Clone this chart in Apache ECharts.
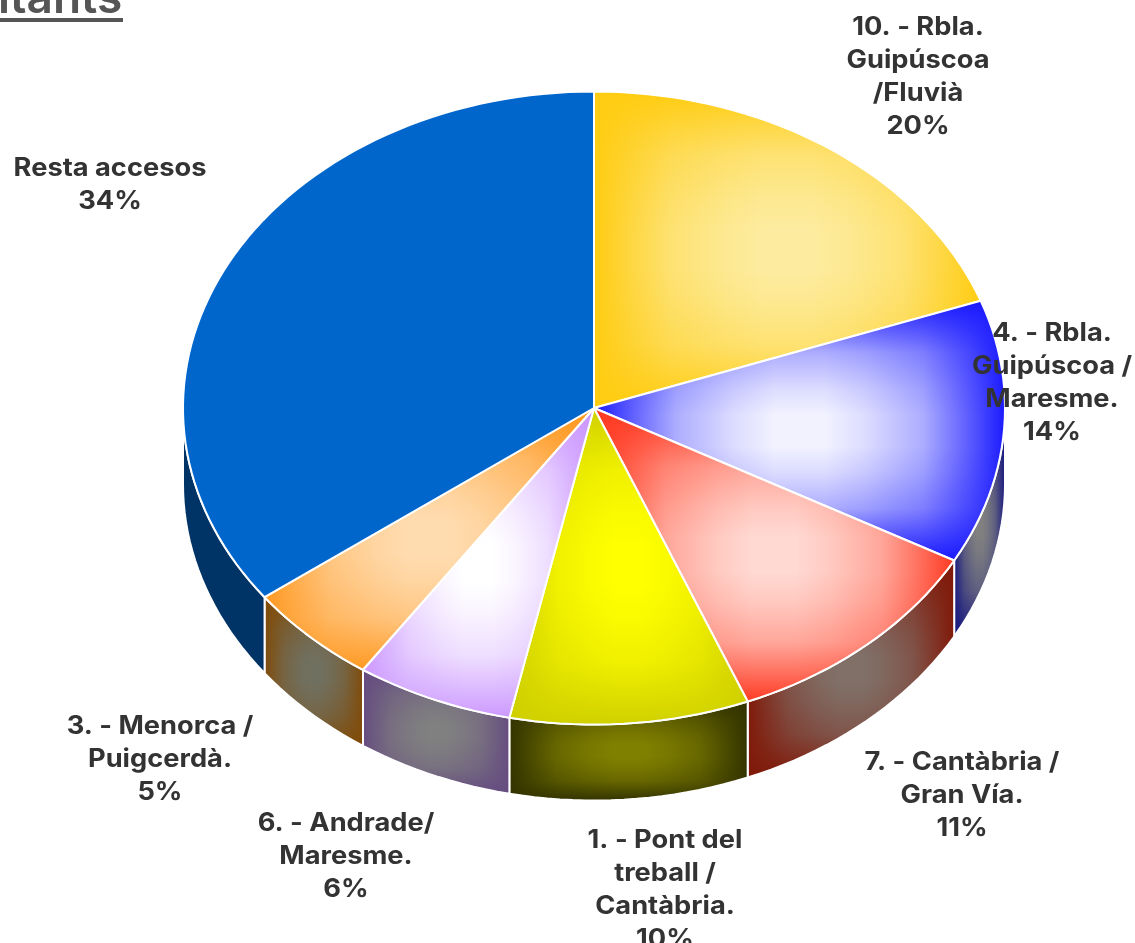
<!DOCTYPE html>
<html>
<head>
<meta charset="utf-8">
<style>html,body{margin:0;padding:0;background:#fff}#chart{width:1135px;height:943px}</style>
<script src="https://cdn.jsdelivr.net/npm/echarts@6/dist/echarts.min.js"></script>
</head>
<body>
<div id="chart"></div>
<script>
// clockwise from 12 o'clock
const names = ['10. - Rbla.\nGuipúscoa\n/Fluvià', '4. - Rbla.\nGuipúscoa /\nMaresme.', '7. - Cantàbria /\nGran Vía.', '1. - Pont del\ntreball /\nCantàbria.', '6. - Andrade/\nMaresme.', '3. - Menorca /\nPuigcerdà.', 'Resta accesos'];
const percentLabels = ['20%', '14%', '11%', '10%', '6%', '5%', '34%'];
// slice sizes (in %)
const sizes = [19.5, 13.5, 10.9, 9.4, 6.2, 5.3, 35.2];

// look of each slice
const topEdge = ['#ffcc11', '#1a1aff', '#ff3a22', '#d0d000', '#cc99ff', '#ff9922', '#0066cc'];
const topMid = ['#fdeca0', '#f2f2ff', '#ffd9d2', '#ffff00', '#ffffff', '#ffdcb0', '#0066cc'];
const wallEdge = ['#806000', '#1a1a80', '#801a0a', '#333300', '#664d80', '#804c0a', '#003366'];
const wallMid = ['#808080', '#808080', '#807068', '#808000', '#808080', '#707060', '#003366'];
// centre x, first line y of every label
const labelAt = [[918, 26], [1052, 332], [962, 761], [665, 839], [346, 822], [160, 725], [110, 167]];

const cx = 594, cy = 408, rx = 411, ry = 316.5, depth = 76;
const labelColor = '#333333';
const lineH = 33;

function pt(pct, dy) {
  const a = pct / 100 * Math.PI * 2;
  return [cx + rx * Math.sin(a), cy - ry * Math.cos(a) + (dy || 0)];
}
function arc(from, to, dy) {
  const pts = [];
  const n = Math.max(2, Math.ceil((to - from) * 2));
  for (let i = 0; i <= n; i++) pts.push(pt(from + (to - from) * i / n, dy));
  return pts;
}
function fade(c) {
  const n = parseInt(c.slice(1), 16);
  const rgb = [n >> 16, (n >> 8) & 255, n & 255].join(',');
  return [
    { offset: 0, color: 'rgba(' + rgb + ',1)' },
    { offset: 0.08, color: 'rgba(' + rgb + ',0.72)' },
    { offset: 0.2, color: 'rgba(' + rgb + ',0.32)' },
    { offset: 0.34, color: 'rgba(' + rgb + ',0.1)' },
    { offset: 0.44, color: 'rgba(' + rgb + ',0)' },
    { offset: 0.56, color: 'rgba(' + rgb + ',0)' },
    { offset: 0.66, color: 'rgba(' + rgb + ',0.1)' },
    { offset: 0.8, color: 'rgba(' + rgb + ',0.32)' },
    { offset: 0.92, color: 'rgba(' + rgb + ',0.72)' },
    { offset: 1, color: 'rgba(' + rgb + ',1)' }
  ];
}
function shaded(points, edge, mid) {
  const shape = { points: points };
  return {
    type: 'group',
    children: [
      { type: 'polygon', shape: shape, style: { fill: mid } },
      { type: 'polygon', shape: shape, style: { fill: { type: 'linear', x: 0, y: 0, x2: 1, y2: 0, colorStops: fade(edge) } } },
      { type: 'polygon', shape: shape, style: { fill: { type: 'linear', x: 0, y: 0, x2: 0, y2: 1, colorStops: fade(edge) } } },
      { type: 'polygon', shape: shape, style: { fill: 'none', stroke: '#fff', lineWidth: 2, lineJoin: 'round' } }
    ]
  };
}

let sum = 0;
const spans = sizes.map(function (v, i) {
  const s = [sum, sum + v, i];
  sum += v;
  return s;
});

let chart = echarts.init(document.getElementById('chart'), null, { renderer: 'canvas' });

option = {
  animation: false,
  graphic: [
    { type: 'text', left: -2, top: -24, style: { text: 'itants', font: '600 46px Inter', fill: '#555555' } },
    { type: 'rect', shape: { x: 0, y: 18, width: 123, height: 4 }, style: { fill: '#555555' } }
  ],
  series: [
    {
      type: 'custom',
      coordinateSystem: 'none',
      silent: true,
      z: 1,
      data: spans,
      renderItem: function (params, api) {
        const i = api.value(2);
        const from = Math.max(api.value(0), 25), to = Math.min(api.value(1), 75);
        if (to <= from) return null;
        const pts = arc(from, to, 0).concat(arc(from, to, depth).reverse());
        return shaded(pts, wallEdge[i], wallMid[i]);
      }
    },
    {
      type: 'custom',
      coordinateSystem: 'none',
      silent: true,
      z: 2,
      data: spans,
      renderItem: function (params, api) {
        const i = api.value(2);
        const pts = [[cx, cy]].concat(arc(api.value(0), api.value(1), 0));
        return shaded(pts, topEdge[i], topMid[i]);
      }
    },
    {
      type: 'custom',
      coordinateSystem: 'none',
      silent: true,
      z: 3,
      data: spans,
      renderItem: function (params, api) {
        const i = api.value(2);
        return {
          type: 'text',
          x: labelAt[i][0],
          y: labelAt[i][1] - lineH / 2 + 1,
          scaleX: 1.09,
          style: {
            text: names[i] + '\n' + percentLabels[i],
            font: '700 25px Inter',
            lineHeight: lineH,
            fill: labelColor,
            align: 'center',
            verticalAlign: 'top'
          }
        };
      }
    }
  ]
};

chart.setOption(option);
</script>
</body>
</html>
